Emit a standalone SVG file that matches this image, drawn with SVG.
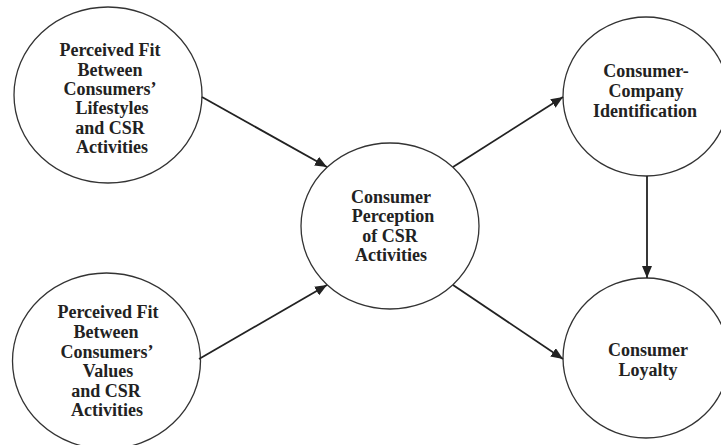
<svg xmlns="http://www.w3.org/2000/svg" width="721" height="445" viewBox="0 0 721 445">
<style>
.node ellipse{fill:#fff;stroke:#333;stroke-width:1.3}
.node text{font-family:"Liberation Serif","Times New Roman",serif;font-weight:bold;font-size:18px;fill:#222;text-anchor:middle}
.edges line{stroke:#222;stroke-width:1.8;marker-end:url(#ah)}
</style>
<defs>
<marker id="ah" viewBox="0 0 12 10" refX="12" refY="5" markerWidth="12" markerHeight="10" markerUnits="userSpaceOnUse" orient="auto">
<path d="M0,0 L12,5 L0,10 Z" fill="#222"/>
</marker>
</defs>
<rect width="721" height="445" fill="#fff"/>
<g id="n-lifestyles" class="node">
<ellipse cx="108" cy="95" rx="94" ry="88"/>
<text x="110" y="56">Perceived Fit</text>
<text x="110" y="75.5">Between</text>
<text x="110" y="95">Consumers’</text>
<text x="112" y="114">Lifestyles</text>
<text x="110" y="133.5">and CSR</text>
<text x="112" y="153">Activities</text>
</g>
<g id="n-values" class="node">
<ellipse cx="106.5" cy="361" rx="94" ry="88"/>
<text x="108" y="318">Perceived Fit</text>
<text x="106" y="338">Between</text>
<text x="107" y="358">Consumers’</text>
<text x="108" y="377">Values</text>
<text x="106" y="397">and CSR</text>
<text x="107" y="416">Activities</text>
</g>
<g id="n-perception" class="node">
<ellipse cx="390" cy="226" rx="89" ry="83"/>
<text x="391" y="203">Consumer</text>
<text x="393" y="222">Perception</text>
<text x="390" y="241.5">of CSR</text>
<text x="391" y="261">Activities</text>
</g>
<g id="n-identification" class="node">
<ellipse cx="646" cy="96.5" rx="83" ry="79.5"/>
<text x="646" y="77">Consumer-</text>
<text x="646" y="97">Company</text>
<text x="645" y="117">Identification</text>
</g>
<g id="n-loyalty" class="node">
<ellipse cx="646" cy="358" rx="83" ry="80"/>
<text x="648" y="356">Consumer</text>
<text x="648" y="375.5">Loyalty</text>
</g>
<g id="edges" class="edges">
<line x1="202" y1="97" x2="327" y2="167"/>
<line x1="199" y1="359" x2="327" y2="285"/>
<line x1="453" y1="167" x2="563" y2="97"/>
<line x1="453" y1="285" x2="563" y2="359"/>
<line x1="647" y1="176" x2="647" y2="278"/>
</g>
</svg>
